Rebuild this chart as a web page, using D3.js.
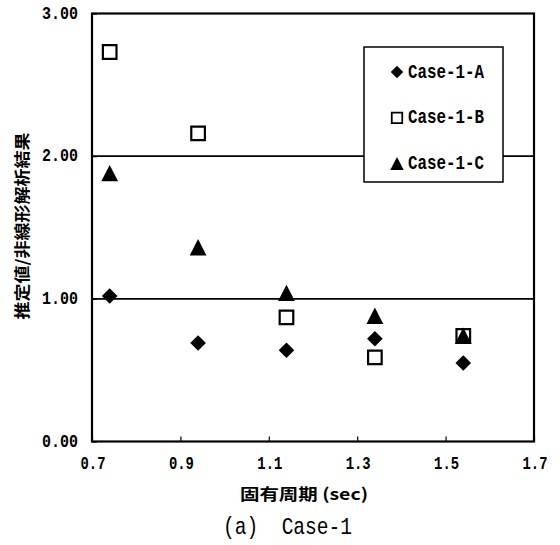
<!DOCTYPE html>
<html>
<head>
<meta charset="utf-8">
<script src="https://cdn.jsdelivr.net/npm/d3@7"></script>
<style>
  html, body { margin: 0; padding: 0; background: #fff; }
  svg { display: block; }
</style>
</head>
<body>
<script>
// Natural period (sec) for each analysed model
const periods = [0.74, 0.94, 1.14, 1.34, 1.54];
// Ratio of estimated value to nonlinear analysis result
const caseA = [1.02, 0.69, 0.64, 0.72, 0.55];
const caseB = [2.73, 2.16, 0.87, 0.59, 0.74];
const caseC = [1.88, 1.36, 1.04, 0.88, 0.74];
const seriesNames = ["Case-1-A", "Case-1-B", "Case-1-C"];
const xTicks = [0.7, 0.9, 1.1, 1.3, 1.5, 1.7];
const yTicks = [0, 1, 2, 3];
const refLines = [1, 2];

const W = 560, H = 545;
const m = { left: 92, right: 534, top: 13.5, bottom: 441.5 };

const svg = d3.select("body").append("svg")
  .attr("width", W).attr("height", H);

const x = d3.scaleLinear().domain([0.7, 1.7]).range([m.left, m.right]);
const y = d3.scaleLinear().domain([0, 3]).range([m.bottom, m.top]);

const numFont = "'Liberation Mono', 'DejaVu Sans Mono', monospace";
const jpFont = "'Noto Sans CJK JP', 'Noto Sans', sans-serif";

// Horizontal reference lines
svg.append("g").selectAll("line").data(refLines).join("line")
  .attr("x1", m.left).attr("x2", m.right)
  .attr("y1", d => y(d)).attr("y2", d => y(d))
  .attr("stroke", "#000").attr("stroke-width", 1.6);

// Axes with inward ticks
const xAxis = d3.axisBottom(x).tickValues(xTicks).tickSize(-5).tickFormat("");
const yAxis = d3.axisLeft(y).tickValues(yTicks).tickSize(-5).tickFormat("");
svg.append("g").attr("transform", `translate(0,${m.bottom})`).call(xAxis)
  .call(g => g.select(".domain").remove())
  .selectAll("line").attr("stroke", "#000").attr("stroke-width", 1.2);
svg.append("g").attr("transform", `translate(${m.left},0)`).call(yAxis)
  .call(g => g.select(".domain").remove())
  .selectAll("line").attr("stroke", "#000").attr("stroke-width", 1.2);

// Plot frame
svg.append("rect")
  .attr("x", m.left).attr("y", m.top)
  .attr("width", m.right - m.left).attr("height", m.bottom - m.top)
  .attr("fill", "none").attr("stroke", "#000").attr("stroke-width", 2.2);

// Tick labels
svg.append("g").selectAll("text").data(yTicks).join("text")
  .attr("x", 78).attr("y", d => y(d))
  .attr("text-anchor", "end").attr("dominant-baseline", "central")
  .attr("font-family", numFont).attr("font-weight", "bold").attr("font-size", 19)
  .attr("textLength", 36).attr("lengthAdjust", "spacingAndGlyphs")
  .text(d => d3.format(".2f")(d));

svg.append("g").selectAll("text").data(xTicks).join("text")
  .attr("x", d => x(d) + 1).attr("y", 464)
  .attr("text-anchor", "middle").attr("dominant-baseline", "central")
  .attr("font-family", numFont).attr("font-weight", "bold").attr("font-size", 19)
  .attr("textLength", 25).attr("lengthAdjust", "spacingAndGlyphs")
  .text(d => d3.format(".1f")(d));

// Axis titles
svg.append("text")
  .attr("transform", "translate(21,226) rotate(-90)")
  .attr("text-anchor", "middle").attr("dominant-baseline", "central")
  .attr("font-family", jpFont).attr("font-weight", "bold").attr("font-size", 16)
  .attr("textLength", 187).attr("lengthAdjust", "spacingAndGlyphs")
  .text("推定値/非線形解析結果");

svg.append("text")
  .attr("x", 304).attr("y", 493)
  .attr("text-anchor", "middle").attr("dominant-baseline", "central")
  .attr("font-family", jpFont).attr("font-weight", "bold").attr("font-size", 16)
  .attr("textLength", 128).attr("lengthAdjust", "spacingAndGlyphs")
  .text("固有周期 (sec)");

svg.append("text")
  .attr("x", 287.5).attr("y", 527)
  .attr("text-anchor", "middle").attr("dominant-baseline", "central")
  .attr("font-family", numFont).attr("font-size", 24)
  .attr("textLength", 129).attr("lengthAdjust", "spacingAndGlyphs")
  .attr("xml:space", "preserve")
  .text("(a)  Case-1");

// Marker shapes
const diamond = s => `M0,${-s}L${s},0L0,${s}L${-s},0Z`;
const square = s => `M${-s},${-s}H${s}V${s}H${-s}Z`;
const triangle = s => `M0,${-s}L${s},${s * 0.95}H${-s}Z`;

const series = [
  { name: seriesNames[0], values: caseA, path: diamond, size: 7.8, fill: "#000", stroke: "none" },
  { name: seriesNames[1], values: caseB, path: s => square(s - 1), size: 7.8, fill: "#fff", stroke: "#000" },
  { name: seriesNames[2], values: caseC, path: triangle, size: 8.4, fill: "#000", stroke: "none" }
];

// Legend box (drawn above reference lines, below points)
const lg = { x: 364, y: 47, w: 139, h: 135 };
svg.append("rect")
  .attr("x", lg.x).attr("y", lg.y).attr("width", lg.w).attr("height", lg.h)
  .attr("fill", "#fff").attr("stroke", "#000").attr("stroke-width", 1.5);

const legendRows = svg.append("g").selectAll("g").data(series).join("g")
  .attr("transform", (d, i) => `translate(397,${72 + i * 45.8})`);
legendRows.append("path")
  .attr("d", d => d.path(d.size * 0.8))
  .attr("fill", d => d.fill).attr("stroke", d => d.stroke).attr("stroke-width", 1.8);
legendRows.append("text")
  .attr("x", 11).attr("y", 0).attr("dominant-baseline", "central")
  .attr("font-family", numFont).attr("font-weight", "bold").attr("font-size", 21)
  .attr("textLength", 76).attr("lengthAdjust", "spacingAndGlyphs")
  .text(d => d.name);

// Data points
series.forEach(s => {
  svg.append("g").selectAll("path").data(periods.map((p, i) => [p, s.values[i]])).join("path")
    .attr("transform", d => `translate(${x(d[0])},${y(d[1])})`)
    .attr("d", s.path(s.size))
    .attr("fill", s.fill).attr("stroke", s.stroke).attr("stroke-width", 2.2);
});
</script>
</body>
</html>
